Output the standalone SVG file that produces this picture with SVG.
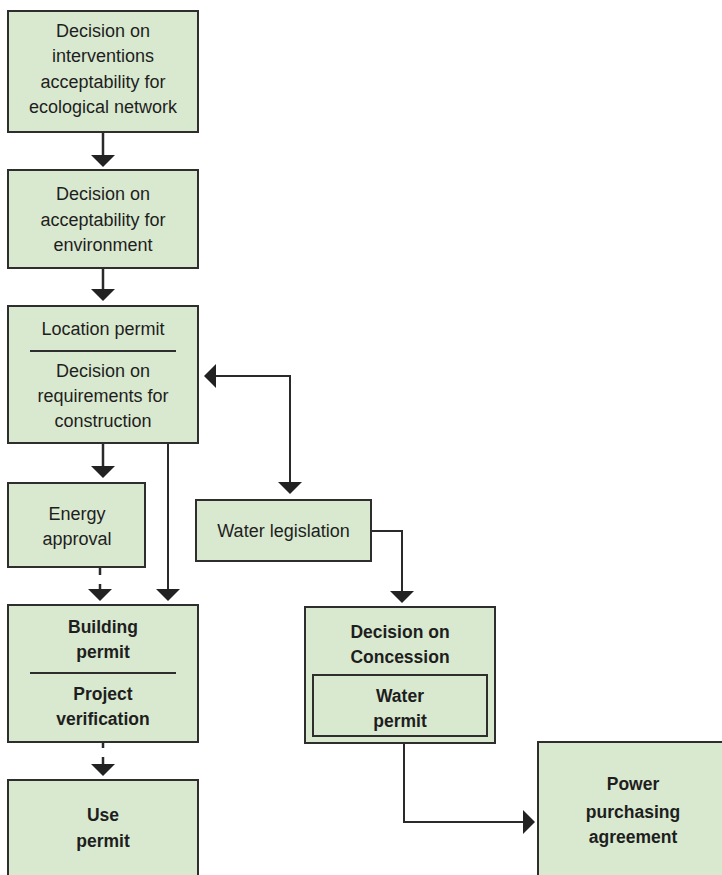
<svg xmlns="http://www.w3.org/2000/svg" width="722" height="875" viewBox="0 0 722 875">
  <style>
    .box { fill: #d9e9d0; stroke: #2e2e2e; stroke-width: 2; }
    .rule { stroke: #2e2e2e; stroke-width: 2; }
    .t { font-family: "Liberation Sans", Arial, sans-serif; font-size: 18px; fill: #1e1e1e; text-anchor: middle; }
    .b { font-weight: bold; font-size: 17.5px; }
    .ln { fill: none; stroke: #2a2a2a; stroke-width: 2.5; }
    .thin { stroke-width: 2; }
    .dash { stroke-dasharray: 7 9; }
  </style>
  <defs>
    <marker id="head" markerUnits="userSpaceOnUse" markerWidth="12" markerHeight="24" viewBox="0 0 12 24" refX="0" refY="12" orient="auto">
      <path d="M0,0 L12,12 L0,24 z" fill="#222"/>
    </marker>
    <marker id="tail" markerUnits="userSpaceOnUse" markerWidth="12" markerHeight="24" viewBox="0 0 12 24" refX="12" refY="12" orient="auto">
      <path d="M12,0 L0,12 L12,24 z" fill="#222"/>
    </marker>
  </defs>

  <!-- connectors -->
  <g id="connectors">
    <path class="ln" d="M103,132 V155" marker-end="url(#head)"/>
    <path class="ln" d="M103,268 V289" marker-end="url(#head)"/>
    <path class="ln" d="M103,443 V466" marker-end="url(#head)"/>
    <path class="ln dash" d="M100,568 V589" marker-end="url(#head)"/>
    <path class="ln thin" d="M168,443 V589" marker-end="url(#head)"/>
    <path class="ln dash" d="M103,741 V764" marker-end="url(#head)"/>
    <path class="ln thin" d="M216,376 H290 V482" marker-start="url(#tail)" marker-end="url(#head)"/>
    <path class="ln thin" d="M371,531 H402 V591" marker-end="url(#head)"/>
    <path class="ln thin" d="M404,743 V822 H523" marker-end="url(#head)"/>
  </g>

  <g id="ecological-network">
    <rect class="box" x="8" y="11" width="190" height="121"/>
    <text class="t" x="103" y="37">Decision on</text>
    <text class="t" x="103" y="62">interventions</text>
    <text class="t" x="103" y="88">acceptability for</text>
    <text class="t" x="103" y="113">ecological network</text>
  </g>

  <g id="environment">
    <rect class="box" x="8" y="170" width="190" height="98"/>
    <text class="t" x="103" y="200">Decision on</text>
    <text class="t" x="103" y="226">acceptability for</text>
    <text class="t" x="103" y="251">environment</text>
  </g>

  <g id="location-permit">
    <rect class="box" x="8" y="306" width="190" height="137"/>
    <text class="t" x="103" y="335">Location permit</text>
    <line class="rule" x1="30" y1="351" x2="176" y2="351"/>
    <text class="t" x="103" y="377">Decision on</text>
    <text class="t" x="103" y="402">requirements for</text>
    <text class="t" x="103" y="427">construction</text>
  </g>

  <g id="energy-approval">
    <rect class="box" x="8" y="483" width="137" height="84"/>
    <text class="t" x="77" y="520">Energy</text>
    <text class="t" x="77" y="545">approval</text>
  </g>

  <g id="building-permit">
    <rect class="box" x="8" y="605" width="190" height="137"/>
    <text class="t b" x="103" y="633">Building</text>
    <text class="t b" x="103" y="658">permit</text>
    <line class="rule" x1="30" y1="673" x2="176" y2="673"/>
    <text class="t b" x="103" y="700">Project</text>
    <text class="t b" x="103" y="725">verification</text>
  </g>

  <g id="use-permit">
    <rect class="box" x="8" y="780" width="190" height="110"/>
    <text class="t b" x="103" y="821">Use</text>
    <text class="t b" x="103" y="847">permit</text>
  </g>

  <g id="water-legislation">
    <rect class="box" x="196" y="500" width="175" height="61"/>
    <text class="t" x="283.5" y="537">Water legislation</text>
  </g>

  <g id="concession">
    <rect class="box" x="305" y="607" width="190" height="136"/>
    <text class="t b" x="400" y="638">Decision on</text>
    <text class="t b" x="400" y="663">Concession</text>
    <rect class="box" x="313" y="675" width="174" height="61"/>
    <text class="t b" x="400" y="702">Water</text>
    <text class="t b" x="400" y="727">permit</text>
  </g>

  <g id="power-purchasing">
    <rect class="box" x="538" y="742" width="192" height="150"/>
    <text class="t b" x="633" y="790">Power</text>
    <text class="t b" x="633" y="818">purchasing</text>
    <text class="t b" x="633" y="843">agreement</text>
  </g>
</svg>
